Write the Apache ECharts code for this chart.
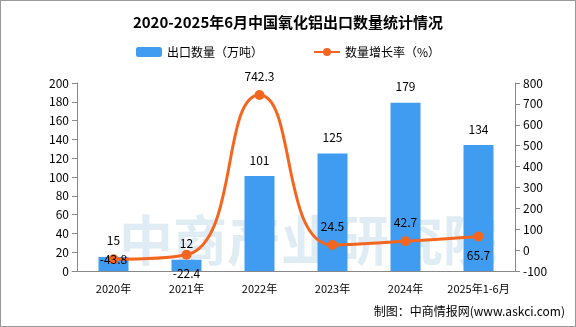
<!DOCTYPE html>
<html><head><meta charset="utf-8">
<script src="https://cdn.jsdelivr.net/npm/echarts@6/dist/echarts.min.js"></script>
<style>html,body{margin:0;padding:0;background:#fff}#c{width:576px;height:327px;box-sizing:border-box;border:1px solid #999}</style>
</head><body><div id="c"></div>
<script>
const categories = ['2020年','2021年','2022年','2023年','2024年','2025年1-6月'];
const exportVolume = [15, 12, 101, 125, 179, 134];
const growthRate = [-43.8, -22.4, 742.3, 24.5, 42.7, 65.7];
const rateLabelPos = ['inside','bottom','top','top','top','bottom'];

const font = '"Noto Sans CJK SC", sans-serif';
const chart = echarts.init(document.getElementById('c'));
chart.setOption({
  animation: false,
  title: {text: '2020-2025年6月中国氧化铝出口数量统计情况', left: 'center', top: 9,
    textStyle: {fontSize: 15, fontWeight: 'bold', color: '#000', fontFamily: font}},
  legend: {top: 40, left: 'center', itemGap: 50, itemWidth: 26, itemHeight: 10,
    textStyle: {fontSize: 12, color: '#000', fontFamily: font},
    data: [{name: '出口数量（万吨）'}, {name: '数量增长率（%）'}]},
  graphic: [
    {type: 'text', left: 118, top: 212, z: 0, style: {text: '中商产业研究院', fontSize: 54, fontWeight: 'bold', fill: 'rgba(175,208,228,0.4)', fontFamily: font}},
    {type: 'text', right: 10, top: 304, style: {text: '制图：中商情报网(www.askci.com)', fontSize: 12, fill: '#000', fontFamily: font}}
  ],
  grid: {left: 76, right: 60, top: 82, bottom: 55},
  xAxis: {type: 'category', data: categories,
    axisLine: {lineStyle: {color: '#888'}},
    axisTick: {length: 5, lineStyle: {color: '#888'}},
    axisLabel: {interval: 0, color: '#000', fontSize: 11, fontFamily: font, margin: 12}},
  yAxis: [
    {type: 'value', min: 0, max: 200, interval: 20,
      axisLine: {show: true, lineStyle: {color: '#888'}},
      axisTick: {show: true, length: 5, lineStyle: {color: '#888'}},
      splitLine: {show: false},
      axisLabel: {color: '#000', fontSize: 12, fontFamily: font}},
    {type: 'value', min: -100, max: 800, interval: 100,
      axisLine: {show: true, lineStyle: {color: '#888'}},
      axisTick: {show: true, length: 5, lineStyle: {color: '#888'}},
      splitLine: {show: false},
      axisLabel: {color: '#000', fontSize: 12, fontFamily: font}}
  ],
  series: [
    {name: '出口数量（万吨）', type: 'bar', data: exportVolume, barWidth: 30,
      itemStyle: {color: '#3f9cf1'},
      label: {show: true, position: 'top', distance: 10, color: '#000', fontSize: 12, fontFamily: font}},
    {name: '数量增长率（%）', type: 'line', yAxisIndex: 1, smooth: 0.5,
      data: growthRate.map((v, i) => ({value: v, label: {position: rateLabelPos[i]}})),
      symbol: 'circle', symbolSize: 10,
      lineStyle: {color: '#f4661f', width: 3},
      itemStyle: {color: '#f4661f'},
      label: {show: true, color: '#000', fontSize: 12, fontFamily: font, distance: 8}}
  ]
});
</script></body></html>
